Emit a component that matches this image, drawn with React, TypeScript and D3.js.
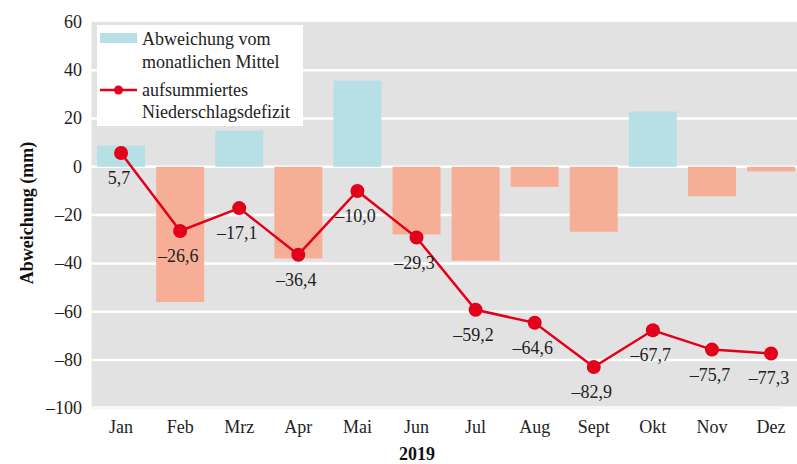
import React from "react";
import * as d3 from "d3";

const months = ["Jan", "Feb", "Mrz", "Apr", "Mai", "Jun", "Jul", "Aug", "Sept", "Okt", "Nov", "Dez"];
const deviation = [8.8, -56, 15, -38, 35.7, -28, -38.9, -8.3, -26.9, 22.9, -12.2, -1.9];
const cumulative = [5.7, -26.6, -17.1, -36.4, -10.0, -29.3, -59.2, -64.6, -82.9, -67.7, -75.7, -77.3];
const yTicks = [60, 40, 20, 0, -20, -40, -60, -80, -100];

const W = 797;
const H = 464;
const FONT = "'Liberation Serif', 'Times New Roman', serif";
const TEXT = "#222";
const RED = "#e2001a";
const BLUE = "#b7dfe6";
const SALMON = "#f6af96";
const GRAY = "#e2e2e2";

const fmt = (v: number) => (v < 0 ? "\u2013" : "") + Math.abs(v).toFixed(1).replace(".", ",");
const fmtTick = (v: number) => (v < 0 ? "\u2013" : "") + Math.abs(v);

export default function App() {
  const x = d3.scaleBand<string>().domain(months).range([91.5, 800.6]).paddingInner(0.188).paddingOuter(0.094);
  const y = d3.scaleLinear().domain([-100, 60]).range([408.3, 21.9]);
  const cx = (m: string) => (x(m) ?? 0) + x.bandwidth() / 2;
  const line = d3
    .line<number>()
    .x((_, i) => cx(months[i]))
    .y((d) => y(d));

  return (
    <svg width={W} height={H} style={{ position: "absolute", left: 0, top: 0 }} fontFamily={FONT}>
      <rect x={0} y={0} width={W} height={H} fill="#fff" />
      {/* plot background */}
      <rect x={91.5} y={y(60)} width={W - 91.5} height={y(-100) - y(60) - 2} fill={GRAY} />
      {/* gridlines */}
      {yTicks.filter((t) => t !== 60 && t !== -100).map((t) => (
        <line key={t} x1={90} x2={W} y1={y(t)} y2={y(t)} stroke="#fff" strokeWidth={2.5} />
      ))}
      <line x1={91.5} x2={782} y1={y(-100)} y2={y(-100)} stroke="#f3f3f3" strokeWidth={1.5} />
      {/* bars */}
      {deviation.map((v, i) => (
        <rect
          key={months[i]}
          x={x(months[i])}
          width={x.bandwidth()}
          y={v >= 0 ? y(v) : y(0)}
          height={Math.abs(y(v) - y(0))}
          fill={v >= 0 ? BLUE : SALMON}
        />
      ))}
      {/* y tick labels */}
      {yTicks.map((t) => (
        <text key={t} x={82} y={y(t)} dy="0.33em" textAnchor="end" fontSize={18} fill={TEXT}>
          {fmtTick(t)}
        </text>
      ))}
      {/* x tick labels */}
      {months.map((m) => (
        <text key={m} x={cx(m)} y={433} textAnchor="middle" fontSize={18} fill={TEXT}>
          {m}
        </text>
      ))}
      <text x={417} y={460} textAnchor="middle" fontSize={18} fontWeight="bold" fill="#111">
        2019
      </text>
      <text
        transform={`translate(33,213) rotate(-90)`}
        textAnchor="middle"
        fontSize={18}
        fontWeight="bold"
        fill="#111"
      >
        Abweichung (mm)
      </text>
      {/* line */}
      <path d={line(cumulative) ?? ""} fill="none" stroke={RED} strokeWidth={2.5} />
      {cumulative.map((v, i) => (
        <circle key={months[i]} cx={cx(months[i])} cy={y(v)} r={7} fill={RED} />
      ))}
      {cumulative.map((v, i) => (
        <text key={months[i]} x={cx(months[i]) - 2} y={y(v) + 31} textAnchor="middle" fontSize={18} fill={TEXT}>
          {fmt(v)}
        </text>
      ))}
      {/* legend */}
      <rect x={97} y={25} width={206} height={101} fill="#fff" />
      <rect x={100} y={33} width={37} height={10} fill={BLUE} />
      <text x={142} y={45} fontSize={18} fill={TEXT}>Abweichung vom</text>
      <text x={142} y={68} fontSize={18} fill={TEXT}>monatlichen Mittel</text>
      <line x1={100} x2={137} y1={90} y2={90} stroke={RED} strokeWidth={2.5} />
      <circle cx={118.5} cy={90} r={4.5} fill={RED} />
      <text x={142} y={96} fontSize={18} fill={TEXT}>aufsummiertes</text>
      <text x={142} y={118} fontSize={18} fill={TEXT}>Niederschlagsdefizit</text>
    </svg>
  );
}
